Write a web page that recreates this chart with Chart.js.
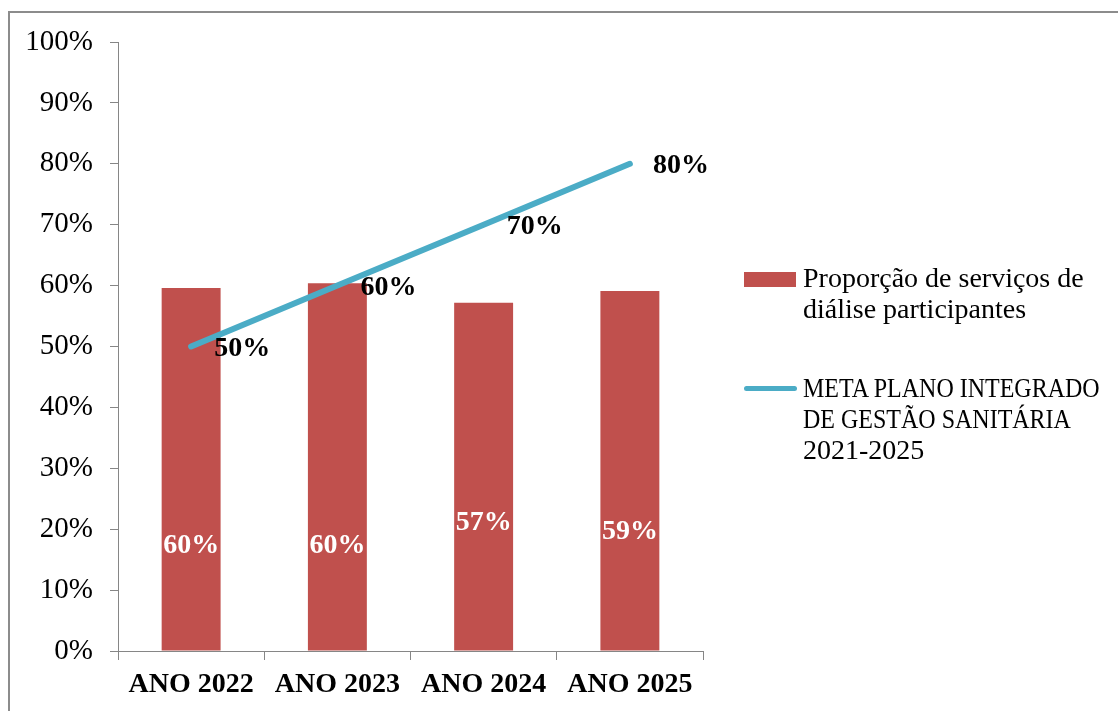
<!DOCTYPE html>
<html>
<head>
<meta charset="utf-8">
<script src="https://cdn.jsdelivr.net/npm/chart.js@4.4.0/dist/chart.umd.min.js"></script>
<style>
  body { margin: 0; background: #fff; overflow: hidden; }
  #wrap { position: relative; width: 1118px; height: 711px; }
  #frame { position: absolute; left: 8px; top: 11px; width: 1200px; height: 800px;
           border-left: 2px solid #8c8c8c; border-top: 2px solid #8c8c8c; }
  #chart { position: absolute; left: 0; top: 0; }
  .leg { position: absolute; font-family: "Liberation Serif", serif; font-size: 28px;
         line-height: 31px; color: #000; }
  .leg .txt { position: absolute; left: 59px; top: 0; white-space: nowrap; }
  .caps { display: inline-block; transform: scaleX(0.857); transform-origin: left center; }
  .swatch { position: absolute; }
</style>
</head>
<body>
<div id="wrap">
  <div id="frame"></div>
  <canvas id="chart" width="1118" height="711"></canvas>
  <div class="leg" style="left:744px; top:262px;">
    <div class="swatch" style="left:0; top:10px; width:52px; height:15px; background:#C0504D;"></div>
    <div class="txt">Proporção de serviços de<br>diálise participantes</div>
  </div>
  <div class="leg" style="left:744px; top:372px;">
    <div class="swatch" style="left:0; top:14px; width:53px; height:5px; border-radius:3px; background:#4BACC6;"></div>
    <div class="txt"><span class="caps">META PLANO INTEGRADO</span><br><span class="caps">DE GESTÃO SANITÁRIA</span><br>2021-2025</div>
  </div>
</div>
<script>
// data
const anos = ['ANO 2022', 'ANO 2023', 'ANO 2024', 'ANO 2025'];
const participacao = [59.6, 60.4, 57.2, 59.1];
const meta = [50, 60, 70, 80];
// where the white labels sit inside each bar (value units)
const barLabelAt = [17.2, 17.2, 21.0, 19.5];

const serif = '"Liberation Serif", serif';

const valueLabels = {
  id: 'valueLabels',
  afterDatasetsDraw(chart) {
    const ctx = chart.ctx;
    const y = chart.scales.y;
    ctx.save();
    ctx.font = 'bold 28px ' + serif;
    ctx.textBaseline = 'middle';
    ctx.fillStyle = '#fff';
    ctx.textAlign = 'center';
    chart.getDatasetMeta(1).data.forEach((bar, i) => {
      ctx.fillText(Math.round(participacao[i]) + '%', bar.x, y.getPixelForValue(barLabelAt[i]));
    });
    ctx.fillStyle = '#000';
    ctx.textAlign = 'left';
    chart.getDatasetMeta(0).data.forEach((pt, i) => {
      ctx.fillText(meta[i] + '%', pt.x + 23, pt.y + 2);
    });
    ctx.restore();
  }
};

const ctx = document.getElementById('chart').getContext('2d');
new Chart(ctx, {
  type: 'bar',
  data: {
    labels: anos,
    datasets: [{
      type: 'line',
      label: 'META PLANO INTEGRADO DE GESTÃO SANITÁRIA 2021-2025',
      data: meta,
      borderColor: '#4BACC6',
      borderWidth: 6,
      borderCapStyle: 'round',
      pointRadius: 0,
      tension: 0,
      order: 0
    }, {
      label: 'Proporção de serviços de diálise participantes',
      data: participacao,
      backgroundColor: '#C0504D',
      categoryPercentage: 1,
      barPercentage: 0.403,
      order: 1
    }]
  },
  options: {
    responsive: false,
    animation: false,
    layout: { padding: { left: 0, top: 42, right: 415, bottom: 0 } },
    plugins: { legend: { display: false }, tooltip: { enabled: false } },
    scales: {
      x: {
        offset: true,
        grid: { offset: true, drawOnChartArea: false, drawTicks: true, tickLength: 9, color: '#868686' },
        border: { display: true, color: '#868686', width: 1 },
        ticks: { color: '#000', padding: 8, font: { family: serif, size: 28, weight: 'bold' } },
        afterFit: (s) => { s.height = 60; }
      },
      y: {
        min: 0,
        max: 100,
        grid: { drawOnChartArea: false, drawTicks: true, tickLength: 8, color: '#868686' },
        border: { display: true, color: '#868686', width: 1 },
        ticks: { stepSize: 10, color: '#000', padding: 17, font: { family: serif, size: 29 },
                 callback: (v) => v + '%' },
        afterFit: (s) => { s.width = 118; }
      }
    }
  },
  plugins: [valueLabels]
});
</script>
</body>
</html>
